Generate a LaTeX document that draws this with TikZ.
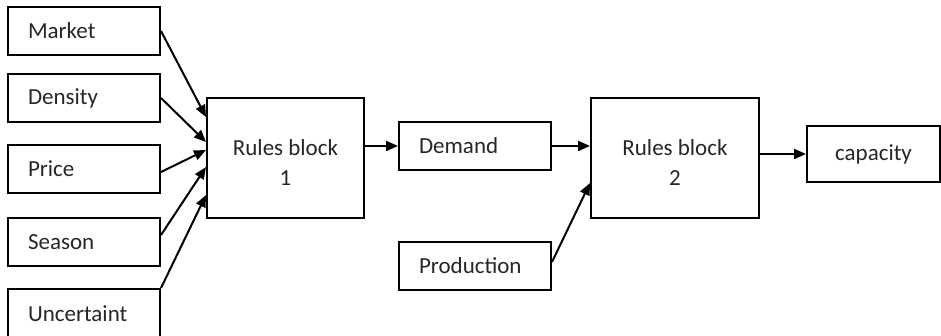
\documentclass[tikz,border=0pt]{standalone}
\usepackage{fontspec}
\setmainfont{Carlito}
\usetikzlibrary{arrows.meta}
\begin{document}
\begin{tikzpicture}[x=1pt,y=-1pt,
  every node/.style={font=\fontsize{23}{30}\selectfont, text=black!85},
  inbox/.style={draw=black, line width=2pt, minimum height=48pt, anchor=north west,
    inner xsep=20pt, text width=112pt, align=left},
  blockbox/.style={draw=black, line width=2pt, minimum width=157pt, minimum height=120pt,
    anchor=north west},
  blocktext/.style={align=center, yshift=-5pt},
  link/.style={draw=black, line width=2pt, -{Triangle[length=12pt,width=10pt]}}]
\useasboundingbox (0,0) rectangle (941,336);
\begin{scope}
\clip (0,0) rectangle (941,336);
% input boxes on the left
\node[inbox] (market) at (7,6) {Market};
\node[inbox] (density) at (7,73) {Density};
\node[inbox] (price) at (7,144) {Price};
\node[inbox] (season) at (7,217) {Season};
\node[inbox, minimum height=60pt, text depth=10pt] (uncert) at (7,288) {Uncertaint};
\end{scope}
% rule blocks
\node[blockbox, label={[blocktext]center:{Rules block\\1}}] (r1) at (206,97) {};
\node[blockbox, minimum width=168pt, label={[blocktext]center:{Rules block\\2}}] (r2) at (590,97) {};
% middle and output boxes
\node[inbox] (demand) at (398,121) {Demand};
\node[inbox] (prod) at (398,241) {Production};
\node[draw=black, line width=2pt, minimum width=133pt, minimum height=56pt, anchor=north west] (cap) at (806,125) {capacity};
% connectors
\draw[link] (market.east) -- (r1.west |- 0,117);
\draw[link] (density.east) -- (r1.west |- 0,142);
\draw[link] (price.east |- 0,172) -- (r1.west |- 0,150);
\draw[link] (season.east |- 0,235) -- (r1.west |- 0,167);
\draw[link] (uncert.north east) -- (r1.west |- 0,195);
\draw[link] (r1.east |- demand.west) -- (demand.west);
\draw[link] (demand.east) -- (r2.west |- demand.east);
\draw[link] (prod.east |- 0,262) -- (r2.west |- 0,183);
\draw[link] (r2.east |- cap.west) -- (cap.west);
\end{tikzpicture}
\end{document}
